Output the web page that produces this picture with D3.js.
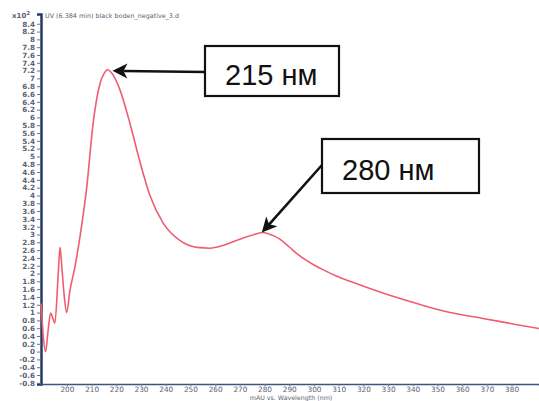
<!DOCTYPE html>
<html>
<head>
<meta charset="utf-8">
<script src="https://cdn.jsdelivr.net/npm/d3@7"></script>
<style>
  html, body { margin: 0; padding: 0; background: #fff; }
  svg { display: block; }
</style>
</head>
<body>
<svg id="chart" width="539" height="401"></svg>
<script>
// UV spectrum, absorbance in mAU x10^2 against wavelength in nm
const wavelengths = [189.5, 191.4, 192.3, 193.4, 194.3, 195.1, 196.4, 197.2, 197.9, 198.8, 199.9,
  201.2, 203.2, 205.3, 208.0, 210.6, 213.4, 215.0, 216.4, 218.2, 221.5, 225.5, 229.6, 233.6,
  238.9, 245.7, 252.6, 257.9, 263.2, 270.0, 276.9, 278.9, 281.5, 286.2, 290.0, 294.3, 300.0,
  303.6, 309.3, 314.6, 327.9, 341.7, 355.1, 368.4, 382.2, 391.1];
const absorbance = [1.23, 0.0, 0.5, 0.99, 0.85, 0.73, 1.9, 2.67, 2.2, 1.5, 1.0,
  1.56, 2.16, 2.95, 4.2, 5.85, 6.87, 7.12, 7.22, 7.13, 6.7, 5.85, 4.85, 4.0,
  3.3, 2.85, 2.67, 2.65, 2.72, 2.88, 3.02, 3.05, 3.02, 2.88, 2.68, 2.45, 2.22,
  2.1, 1.93, 1.8, 1.5, 1.23, 1.0, 0.85, 0.69, 0.59];

const xTicks = d3.range(200, 381, 10);
const yTicks = d3.range(-4, 43).map(i => +(i * 0.2).toFixed(1));

const titleText = "UV (6.384 min) black boden_negative_3.d";
const xAxisTitle = "mAU vs. Wavelength (nm)";

// annotated peaks: wavelength of the marked point and its callout text
const peakLabels = ["215 нм", "280 нм"];
const peakWavelengths = [216.4, 278.9];

const svg = d3.select("#chart");
const axisColor = "#213a66";
const textColor = "#5a6275";

const x = d3.scaleLinear().domain([189.5, 391.1]).range([41, 539]);
const y = d3.scaleLinear().domain([-0.83, 8.65]).range([384, 14]);

// y axis
const yAxis = svg.append("g")
  .attr("transform", "translate(41,0)")
  .call(d3.axisLeft(y).tickValues(yTicks).tickSize(4).tickPadding(2)
    .tickFormat(d => String(d)));
yAxis.select(".domain").attr("stroke", axisColor).attr("stroke-width", 2.5);
yAxis.selectAll(".tick line").attr("stroke", "#6a7388").attr("stroke-width", 1);
yAxis.selectAll(".tick text")
  .attr("fill", textColor)
  .style("font-family", "DejaVu Sans")
  .style("font-size", "7.2px")
  .style("font-weight", "bold");

// x axis
const xAxis = svg.append("g")
  .attr("transform", "translate(0,384)")
  .call(d3.axisBottom(x).tickValues(xTicks).tickSize(2).tickPadding(1)
    .tickFormat(d3.format("d")));
xAxis.select(".domain").attr("stroke", "#3c5680").attr("stroke-width", 1.5);
xAxis.selectAll(".tick line").attr("stroke", "#6a7388");
xAxis.selectAll(".tick text")
  .attr("fill", textColor)
  .style("font-family", "DejaVu Sans")
  .style("font-size", "7.3px");

// spectrum line
const points = wavelengths.map((w, i) => [w, absorbance[i]]);
svg.append("path")
  .datum(points)
  .attr("fill", "none")
  .attr("stroke", "#f05c72")
  .attr("stroke-width", 1.6)
  .attr("stroke-linejoin", "round")
  .attr("d", d3.line().x(d => x(d[0])).y(d => y(d[1])).curve(d3.curveMonotoneX));

// top texts
svg.append("text")
  .attr("x", 12).attr("y", 18)
  .attr("fill", textColor)
  .style("font-family", "DejaVu Sans").style("font-size", "7px").style("font-weight", "bold")
  .text("x10")
  .append("tspan").attr("dy", -3).style("font-size", "5.5px").text("2");
svg.append("text")
  .attr("x", 45).attr("y", 18)
  .attr("fill", textColor)
  .style("font-family", "DejaVu Sans").style("font-size", "6.4px")
  .text(titleText);

svg.append("text")
  .attr("x", 291).attr("y", 399.5)
  .attr("text-anchor", "middle")
  .attr("fill", textColor)
  .style("font-family", "DejaVu Sans").style("font-size", "6.3px")
  .text(xAxisTitle);

// callouts
const boxes = [
  { x: 205, y: 46, w: 134, h: 50, tx: 225, ty: 85, from: [205, 72], off: [5, 1] },
  { x: 322, y: 139, w: 157, h: 54, tx: 342, ty: 180, from: [322, 165], off: [0, 0] }
];

function arrow(x1, y1, x2, y2) {
  const ang = Math.atan2(y2 - y1, x2 - x1);
  const L = 15, W = 7.5, notch = 11;
  const bx = x2 - L * Math.cos(ang), by = y2 - L * Math.sin(ang);
  const nx = x2 - notch * Math.cos(ang), ny = y2 - notch * Math.sin(ang);
  const px = -Math.sin(ang), py = Math.cos(ang);
  svg.append("line")
    .attr("x1", x1).attr("y1", y1).attr("x2", nx).attr("y2", ny)
    .attr("stroke", "#111").attr("stroke-width", 2.6);
  svg.append("path")
    .attr("d", `M${x2},${y2}L${bx + px * W},${by + py * W}L${nx},${ny}L${bx - px * W},${by - py * W}Z`)
    .attr("fill", "#111");
}

peakWavelengths.forEach((w, i) => {
  const b = boxes[i];
  const v = absorbance[wavelengths.indexOf(w)];
  arrow(b.from[0], b.from[1], x(w) + b.off[0], y(v) + b.off[1]);
  svg.append("rect")
    .attr("x", b.x).attr("y", b.y).attr("width", b.w).attr("height", b.h)
    .attr("fill", "#fff").attr("stroke", "#111").attr("stroke-width", 2.2);
  svg.append("text")
    .attr("x", b.tx).attr("y", b.ty)
    .attr("fill", "#111")
    .style("font-family", "Liberation Sans, Arial, sans-serif")
    .style("font-size", "29px")
    .text(peakLabels[i]);
});
</script>
</body>
</html>
